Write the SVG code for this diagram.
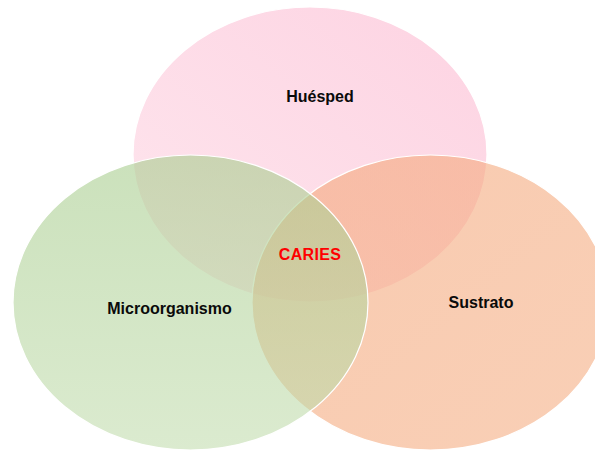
<svg xmlns="http://www.w3.org/2000/svg" width="595" height="450" viewBox="0 0 595 450">
<defs>
<linearGradient id="gPink" x1="0" y1="1" x2="1" y2="0">
<stop offset="0" stop-color="#FDD5E2"/>
<stop offset="1" stop-color="#FCB6CF"/>
</linearGradient>
<linearGradient id="gGreen" x1="0" y1="0" x2="0" y2="1">
<stop offset="0" stop-color="#A8CD8E"/>
<stop offset="1" stop-color="#C3DDAF"/>
</linearGradient>
<linearGradient id="gPeach" x1="0" y1="0" x2="1" y2="1">
<stop offset="0" stop-color="#F4A77A"/>
<stop offset="1" stop-color="#F5AF85"/>
</linearGradient>
</defs>
<style>
.set{stroke:#FFFFFF;stroke-width:1.2;fill-opacity:0.6}
.lbl{font-family:"Liberation Sans",Arial,sans-serif;font-weight:bold;font-size:16px;text-anchor:middle;fill:#0A0A0A}
.core{fill:#FF0000}
</style>
<rect width="595" height="450" fill="#FFFFFF"/>
<g id="huesped">
<ellipse class="set" cx="310" cy="154.5" rx="177" ry="147.5" fill="url(#gPink)"/>
</g>
<g id="sustrato">
<ellipse class="set" cx="430.5" cy="302.5" rx="178.5" ry="147.5" fill="url(#gPeach)"/>
</g>
<g id="microorganismo">
<ellipse class="set" cx="190.5" cy="302.5" rx="177.5" ry="147.5" fill="url(#gGreen)"/>
</g>
<g id="connectors"></g>
<g id="labels">
<text class="lbl" x="320" y="102">Huésped</text>
<text class="lbl" x="169.5" y="314">Microorganismo</text>
<text class="lbl" x="481" y="308">Sustrato</text>
<text class="lbl core" x="310" y="260" letter-spacing="0.3">CARIES</text>
</g>
</svg>
